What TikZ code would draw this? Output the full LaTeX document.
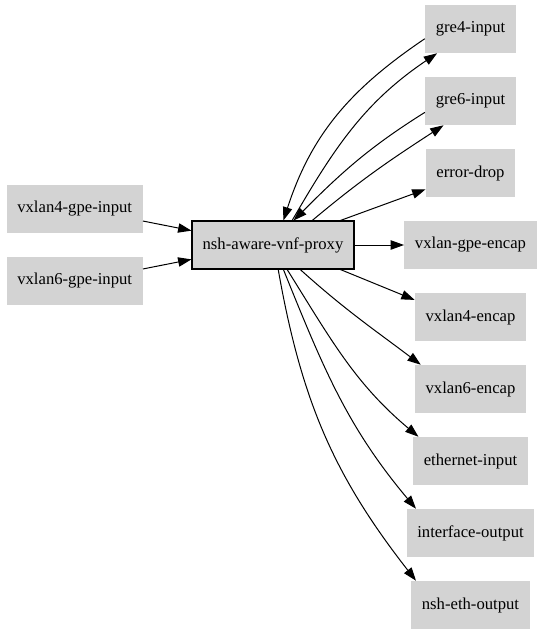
\documentclass[tikz,border=0pt]{standalone}
\usepackage{fontspec}
\setmainfont{Liberation Serif}
\usetikzlibrary{arrows.meta}
\definecolor{nodegray}{RGB}{211,211,211}

\begin{document}
\begin{tikzpicture}[x=0.75pt,y=0.75pt]

\tikzstyle box=[fill=nodegray, minimum height=36pt, inner xsep=8pt, font=\fontsize{12.5}{15}\selectfont]
\tikzstyle proxybox=[box, draw=black, line width=0.8pt]
\tikzstyle edge=[draw=black, line width=0.75pt, -{Triangle[length=10pt,width=7pt]}]

\useasboundingbox (0,0) rectangle (544,-635);

\node (g4in) [box] at (470.5,-29) {gre4-input};
\node (g6in) [box] at (470.5,-101) {gre6-input};
\node (errdrop) [box] at (470.5,-173) {error-drop};
\node (gpeenc) [box] at (470.5,-245) {vxlan-gpe-encap};
\node (v4enc) [box] at (470.5,-317) {vxlan4-encap};
\node (v6enc) [box] at (470.5,-389) {vxlan6-encap};
\node (ethin) [box] at (470.5,-461) {ethernet-input};
\node (ifout) [box] at (470.5,-533) {interface-output};
\node (nshout) [box] at (470.5,-605) {nsh-eth-output};

\node (v4gpe) [box] at (74.7,-209) {vxlan4-gpe-input};
\node (v6gpe) [box] at (74.7,-281) {vxlan6-gpe-input};

\node (proxy) [proxybox] at (273,-245) {nsh-aware-vnf-proxy};

\draw [edge] (v4gpe.350) -- (proxy.170);
\draw [edge] (v6gpe.10) -- (proxy.190);

\draw [edge] (proxy.52) to [out=60,in=214] (g4in.216);
\draw [edge] (g4in.192) to [out=214,in=72] (proxy.67);
\draw [edge] (proxy.32) to [out=40,in=213] (g6in.222);
\draw [edge] (g6in.194) to [out=212,in=45] (proxy.50);

\draw [edge] (proxy.20) -- (errdrop.200);
\draw [edge] (proxy.east) -- (gpeenc.west);
\draw [edge] (proxy.340) -- (v4enc.163);

\foreach \n/\s/\t/\o/\i in {v6enc/318/154/318/143, ethin/300/155/302/140, ifout/293/156/292/130, nshout/282/156/280/128}
{
\draw [edge] (proxy.\s) to [out=\o,in=\i] (\n.\t);
}

\end{tikzpicture}
\end{document}
